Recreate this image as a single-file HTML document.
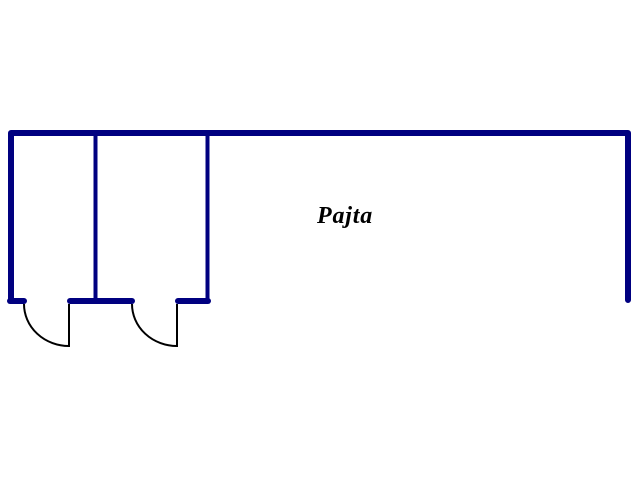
<!DOCTYPE html>
<html><head><style>html,body{margin:0;padding:0;background:#fff;}</style></head>
<body>
<svg width="640" height="480" xmlns="http://www.w3.org/2000/svg">
<rect width="640" height="480" fill="#fff"/>
<g stroke="#000080" stroke-linecap="round" fill="none">
<path d="M11 301 V133 H628 V300" stroke-width="6" stroke-linejoin="round"/>
<line x1="95.5" y1="133" x2="95.5" y2="301" stroke-width="4"/>
<line x1="207.5" y1="133" x2="207.5" y2="301" stroke-width="4"/>
<line x1="10" y1="301" x2="24" y2="301" stroke-width="6"/>
<line x1="70" y1="301" x2="132" y2="301" stroke-width="6"/>
<line x1="178" y1="301" x2="208" y2="301" stroke-width="6"/>
</g>
<g stroke="#000" stroke-width="2" fill="none">
<path d="M24 304 A45 42 0 0 0 69 346 V304"/>
<path d="M132 304 A45 42 0 0 0 177 346 V304"/>
</g>
<text x="317" y="223" font-family="Liberation Serif, serif" font-size="24" font-weight="bold" font-style="italic" letter-spacing="0.8" fill="#000">Pajta</text>
</svg>
</body></html>
